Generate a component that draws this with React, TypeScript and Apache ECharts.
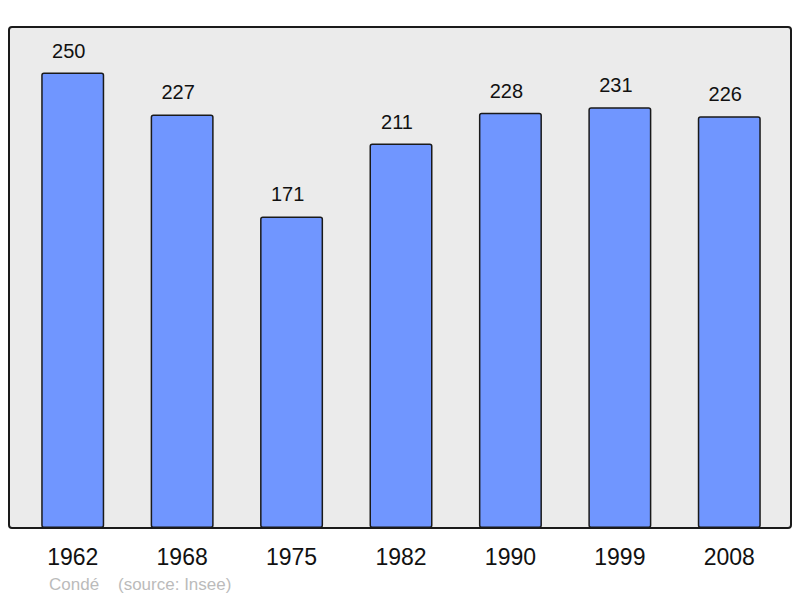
import React, { useEffect, useRef } from "react";
import * as echarts from "echarts";

const years = ["1962", "1968", "1975", "1982", "1990", "1999", "2008"];
const population = [250, 227, 171, 211, 228, 231, 226];
const footerName = "Condé";
const footerSource = "(source: Insee)";

export default function App() {
  const ref = useRef<HTMLDivElement>(null);
  useEffect(() => {
    if (!ref.current) return;
    const chart = echarts.init(ref.current, undefined, { renderer: "svg" });
    chart.setOption({
      animation: false,
      textStyle: { fontFamily: "Liberation Sans, Arial, sans-serif" },
      graphic: [
        {
          type: "rect",
          z: -10,
          shape: { x: 9, y: 27, width: 782, height: 501, r: 3 },
          style: { fill: "#ebebeb", stroke: "#1a1a1a", lineWidth: 2 },
        },
        {
          type: "text",
          x: 49,
          y: 584,
          style: {
            text: footerName,
            fill: "#bbbbbb",
            fontSize: 17,
            fontFamily: "Liberation Sans, Arial, sans-serif",
            verticalAlign: "middle",
          },
        },
        {
          type: "text",
          x: 118,
          y: 584,
          style: {
            text: footerSource,
            fill: "#bbbbbb",
            fontSize: 17,
            fontFamily: "Liberation Sans, Arial, sans-serif",
            verticalAlign: "middle",
          },
        },
      ],
      grid: { left: 18, right: 16, top: 27, bottom: 70 },
      xAxis: {
        type: "category",
        data: years,
        axisLine: { show: false },
        axisTick: { show: false },
        axisLabel: { fontSize: 23, color: "#111", margin: 17 },
      },
      yAxis: {
        type: "value",
        min: 0,
        max: 275,
        show: false,
        splitLine: { show: false },
      },
      series: [
        {
          type: "bar",
          data: population,
          barWidth: 63,
          itemStyle: {
            color: "#7096ff",
            borderColor: "#1a1a1a",
            borderWidth: 1.5,
            borderRadius: 2,
          },
          label: {
            show: true,
            position: "top",
            distance: 12,
            offset: [-4, 0],
            fontSize: 20,
            color: "#111",
          },
        },
      ],
    });
    return () => chart.dispose();
  }, []);
  return <div ref={ref} style={{ width: 800, height: 598, position: "absolute", left: 0, top: 0 }} />;
}
